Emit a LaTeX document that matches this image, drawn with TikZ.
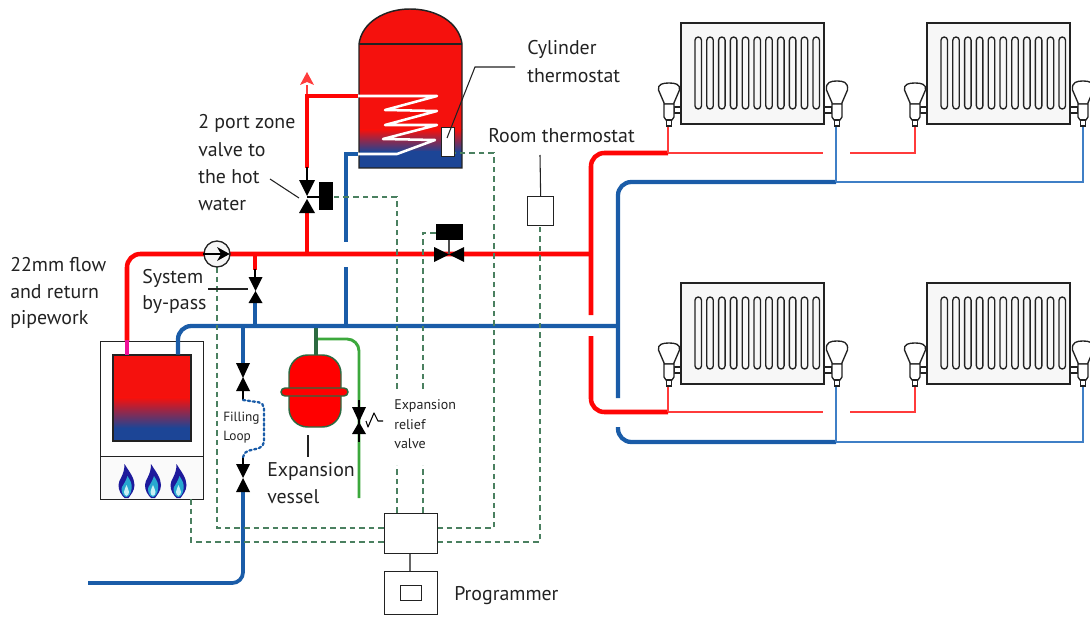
\documentclass[tikz,border=0pt]{standalone}
\usepackage{fontspec}
\setmainfont{PT Sans}
\definecolor{pred}{HTML}{FF0505}
\definecolor{tankred}{HTML}{F5110D}
\definecolor{pblue}{HTML}{1A5CA8}
\definecolor{tankblue}{HTML}{1C4596}
\definecolor{thinred}{HTML}{FF3B3B}
\definecolor{thinblue}{HTML}{3F7FC6}
\definecolor{pgreen}{HTML}{3CA83C}
\definecolor{dgreen}{HTML}{2C6A40}
\definecolor{wgreen}{HTML}{4A8060}
\definecolor{ink}{HTML}{222222}
\definecolor{pinkpipe}{HTML}{F0109A}
\definecolor{navy}{HTML}{1E1A9C}
\definecolor{teal}{HTML}{28A8D0}
\definecolor{pale}{HTML}{C8F0F5}
\tikzset{
 hotpipe/.style={draw=pred,line width=3.4pt,rounded corners=10pt},
 coldpipe/.style={draw=pblue,line width=3.2pt,rounded corners=10pt},
 hotbranch/.style={draw=pred,line width=2.4pt},
 coldbranch/.style={draw=pblue,line width=2.4pt},
 thinhot/.style={draw=thinred,line width=1pt},
 thincold/.style={draw=thinblue,line width=1pt},
 wire/.style={draw=wgreen,line width=.85pt,dash pattern=on 4.2pt off 3pt},
 lead/.style={draw=ink,line width=.8pt},
 boxy/.style={draw=ink,line width=1pt,fill=white},
 lbl/.style={inner sep=0pt,text=ink,font=\fontsize{14.9}{19}\selectfont,align=left},
 slbl/.style={inner sep=0pt,text=ink,font=\fontsize{10.5}{14}\selectfont,align=left},
 vslbl/.style={inner sep=0pt,text=ink,font=\fontsize{10}{14}\selectfont,align=left},
}
\newcommand\vvalve[6]{%
 \fill[black] (#1-#2,#3) -- (#1+#2,#3) -- (#1,#4) -- cycle;
 \fill[black] (#1-#2,#6) -- (#1+#2,#6) -- (#1,#5) -- cycle;}
\newcommand\flame[1]{%
 \fill[navy] (#1-2,464) .. controls (#1+3,472) and (#1+8,478) .. (#1+8,485) .. controls (#1+8,491) and (#1+4,495) .. (#1+2,498) -- (#1-2,498) .. controls (#1-5,495) and (#1-8,491) .. (#1-8,485) .. controls (#1-8,479) and (#1-2,476) .. (#1-2,464) -- cycle;
 \fill[teal] (#1+1,476) .. controls (#1+4,481) and (#1+6,484) .. (#1+5,489) .. controls (#1+5,493) and (#1+2,497) .. (#1,497) .. controls (#1-3,497) and (#1-5,493) .. (#1-5,489) .. controls (#1-5,486) and (#1-2,485) .. (#1+1,476) -- cycle;
 \fill[pale] (#1,485) .. controls (#1+1,488) and (#1+2.5,490) .. (#1+2.5,492) .. controls (#1+2.5,497) and (#1-2.5,497) .. (#1-2.5,492) .. controls (#1-2.5,490) and (#1-1,488) .. (#1,485) -- cycle;}
\newcommand\radvalve[5]{%
 \begin{scope}[shift={(#1,#2)}]
 \draw[ink,line width=1pt,fill=white] (#4,107) rectangle (#5,113);
 \draw[ink,line width=1pt,fill=white] (-4.5,104) -- (-10.5,90) .. controls (-11.5,#3+1) and (-6,#3) .. (0,#3) .. controls (6,#3) and (11.5,#3+1) .. (10.5,90) -- (4.5,104) -- cycle;
 \draw[ink,line width=1pt,fill=white] (-5,104) -- (5,104) -- (5,117) -- (3,120) -- (-3,120) -- (-5,117) -- cycle;
 \draw[ink,line width=1pt,fill=white] (-2.5,120) rectangle (2.5,126);
 \end{scope}}
\newcommand\radiator[2]{%
 \begin{scope}[shift={(#1,#2)}]
 \draw[ink,line width=1.1pt,fill=black!3] (681,23) rectangle (824,124);
 \foreach \k in {0,...,10}{
  \draw[ink,line width=1pt,rounded corners=2.4pt] (695+\k*11.8,37) rectangle (701.5+\k*11.8,109);}
 \end{scope}}
\begin{document}
\begin{tikzpicture}[x=.75pt,y=-.75pt]
\useasboundingbox (0,0) rectangle (1090,617);
% ---------- cylinder
\fill[tankred] (359,44) .. controls (362,22) and (385,9) .. (410,9) .. controls (436,9) and (459,22) .. (462,44) -- (462,130) -- (359,130) -- cycle;
\shade[top color=tankred,bottom color=tankblue] (359,129.5) rectangle (462,152);
\fill[tankblue] (359,151.5) rectangle (462,168);
\draw[ink,line width=1.1pt] (359,168) -- (359,44) .. controls (362,22) and (385,9) .. (410,9) .. controls (436,9) and (459,22) .. (462,44) -- (462,168) -- cycle;
\draw[ink,line width=1pt] (359,44) -- (462,44);
\draw[white,line width=1.9pt,line join=round,line cap=round] (358,96) -- (437,96) -- (385,110) -- (437,111) -- (385,125) -- (437,125) -- (383,139) -- (435,140) -- (397,154) -- (358,154);
% ---------- boiler
\node[boxy,anchor=north west,inner sep=0pt,minimum width=77.25pt,minimum height=86.25pt] (boilertop) at (100,341) {};
\node[boxy,anchor=north west,inner sep=0pt,minimum width=77.25pt,minimum height=32.25pt,fill=black!2] (burner) at (100,456) {};
\fill[tankred] (113,355) rectangle (191,398);
\shade[top color=tankred,bottom color=tankblue] (113,397.5) rectangle (191,428);
\fill[tankblue] (113,427.5) rectangle (191,441);
\draw[ink,line width=1.1pt] (113,355) rectangle (191,441);
\flame{126.5}\flame{153}\flame{178.5}
% ---------- hot water circuit
\draw[thinred,line width=1.4pt] (307,85) -- (307,96);
\fill[thinred] (307,72) -- (314,85) -- (307,82) -- (300,85) -- cycle;
\draw[hotbranch] (358,96) -- (307,96) -- (307,168);
\draw[black,line width=1.4pt] (307,167) -- (307,184);
\draw[hotbranch] (307,212) -- (307,254);
\draw[coldbranch] (358,154) -- (346,154) -- (346,242);
\draw[coldbranch] (346,267) -- (346,326);
% ---------- branches from the mains
\draw[hotbranch] (255,254) -- (255,270);
\draw[black,line width=1.2pt] (255,269) -- (255,280);
\draw[coldbranch] (255,300) -- (255,326);
\draw[coldbranch] (243,326) -- (243,367);
\draw[draw=pblue,line width=2.8pt,rounded corners=8pt] (243,490) -- (243,583) -- (88,583);
\draw[black,line width=1pt] (243,391) -- (243,400) (243,457) -- (243,466);
\draw[draw=pblue,line width=1.7pt,dotted,line cap=round,rounded corners=4pt] (243,400) -- (264,403) -- (264,447) -- (243,452) -- (243,457);
\draw[draw=pgreen,line width=2.2pt,rounded corners=9pt] (316,339) -- (359,339) -- (359,498);
\draw[draw=dgreen,line width=2.4pt] (316,326) -- (316,356);
% ---------- mains
\draw[hotpipe] (127,341) -- (127,254) -- (591,254);
\draw[draw=pinkpipe,line width=3.4pt] (127,354.5) -- (127,340);
\draw[hotpipe] (668,153) -- (591,153) -- (591,315);
\draw[hotpipe] (591,336) -- (591,412) -- (668,412);
\draw[coldpipe] (178,354.5) -- (178,326) -- (619,326);
\draw[coldpipe] (836,182) -- (618,182) -- (618,398);
\draw[coldpipe] (618,427) -- (618,442) -- (836,442);
% ---------- thin pipes to radiators
\draw[thinhot] (668,153) -- (823,153) (850,153) -- (915,153) -- (915,125);
\draw[thinhot] (668,153) -- (668,125);
\draw[thincold] (836,182) -- (1083,182) -- (1083,125);
\draw[thincold] (836,182) -- (836,125);
\draw[thinhot] (668,412) -- (823,412) (850,412) -- (915,412) -- (915,385);
\draw[thinhot] (668,412) -- (668,385);
\draw[thincold] (836,442) -- (1083,442) -- (1083,385);
\draw[thincold] (836,442) -- (836,385);
% ---------- radiators
\foreach \dx/\dy in {0/0,246/0,0/260,246/260}{
 \radiator{\dx}{\dy}
 \radvalve{669+\dx}{\dy}{83}{5}{12}
 \radvalve{837+\dx}{\dy}{81}{-13}{-5}
}
% ---------- control wiring
\coordinate (wa) at (217,267);
\draw[wire] (wa) -- (217,528) -- (384,528);
\draw[wire] (437,528) -- (494,528) -- (494,153) -- (454,153);
\draw[wire] (191,499) -- (191,542) -- (384,542);
\draw[wire] (437,542) -- (540,542) -- (540,226);
\draw[wire] (397,513) -- (397,465);
\draw[wire] (397,389) -- (397,197) -- (333,197);
\draw[wire] (423,513) -- (423,465);
\draw[wire] (423,389) -- (423,233) -- (437,233);
% ---------- expansion vessel
\draw[dgreen,line width=1.1pt,fill=red,rounded corners=14pt] (289,355) rectangle (341,427);
\draw[dgreen,line width=1.1pt,fill=red,rounded corners=3pt] (281,388) rectangle (348,396);
% ---------- pump
\node[draw=ink,line width=1pt,fill=black!3,circle,inner sep=0pt,minimum size=19.5pt] (pump) at (217,254) {};
\draw[black,line width=1.1pt] (pump.west) -- (222,254);
\fill[black] (pump.east) ++(-1,0) -- (217,247) -- (221,254) -- (217,261) -- cycle;
% ---------- valves
\vvalve{307}{8}{180}{196}{199}{213}
\fill[black] (319,182) rectangle (333,210);
\draw[black,line width=1pt] (307,197) -- (320,197);
\vvalve{255.5}{7}{277}{291}{291}{303}
\vvalve{243}{7}{363}{378}{377}{391}
\vvalve{243}{7}{464}{478}{478}{492}
\draw[black,line width=1pt] (359,400) -- (359,442);
\vvalve{359}{7}{407}{422}{422}{434}
\draw[black,line width=.8pt,line join=round] (366,421) -- (368,427) -- (374,413) -- (378,421) -- (383,421);
\fill[black] (434,247) -- (449,254.5) -- (434,262) -- cycle;
\fill[black] (464,247) -- (449,254.5) -- (464,262) -- cycle;
\draw[black!70,line width=1.2pt] (449,240) -- (449,254);
\fill[black] (436,224) rectangle (463,240);
% ---------- thermostats and controls
\node[boxy,anchor=north west,inner sep=0pt,minimum width=9.75pt,minimum height=21.75pt] (cylstat) at (441,127) {};
\node[boxy,anchor=north west,inner sep=0pt,minimum width=19.5pt,minimum height=21.75pt] (roomstat) at (527,196) {};
\node[boxy,anchor=north west,inner sep=0pt,minimum width=39.75pt,minimum height=30pt] (control) at (384,513) {};
\node[boxy,anchor=north west,inner sep=0pt,minimum width=39.75pt,minimum height=32.25pt] (prog) at (384,571) {};
\node[boxy,anchor=north west,inner sep=0pt,minimum width=15.75pt,minimum height=11.25pt] (screen) at (400,585) {};
\draw[black!60,line width=.8pt] (control.south -| 410,553) -- (prog.north -| 410,571);
% ---------- leaders
\draw[lead] (515,67) -- (475,67) -- (447,138);
\draw[lead] (roomstat.north) -- (540,155);
\draw[lead] (270,179) -- (299,198);
\draw[lead] (208,289) -- (248,289);
\draw[lead] (308,435) -- (308,457);
% ---------- labels
\node[lbl,anchor=west] (t1) at (527,49) {Cylinder};
\node[lbl,anchor=west] (t2) at (527,76) {thermostat};
\node[lbl,anchor=west] (t3) at (488,136) {Room thermostat};
\node[lbl,anchor=west] (t4) at (198,123) {2 port zone};
\node[lbl,anchor=west] (t5) at (198,150) {valve to};
\node[lbl,anchor=west] (t6) at (198,177) {the hot};
\node[lbl,anchor=west] (t7) at (198,204) {water};
\node[lbl,anchor=west] (t8) at (10,265) {22mm flow};
\node[lbl,anchor=west] (t9) at (10,292) {and return};
\node[lbl,anchor=west] (t10) at (10,319) {pipework};
\node[lbl,anchor=west] (t11) at (142,278) {System};
\node[lbl,anchor=west] (t12) at (142,305) {by-pass};
\node[vslbl,anchor=west] (t13) at (223,418) {Filling};
\node[vslbl,anchor=west] (t14) at (223,437) {Loop};
\node[lbl,anchor=west] (t15) at (267,471) {Expansion};
\node[lbl,anchor=west] (t16) at (267,497) {vessel};
\node[slbl,anchor=west] (t17) at (394,406) {Expansion};
\node[slbl,anchor=west] (t18) at (394,425) {relief};
\node[slbl,anchor=west] (t19) at (394,444) {valve};
\node[lbl,anchor=west] (t20) at (454,596) {Programmer};
\end{tikzpicture}
\end{document}
